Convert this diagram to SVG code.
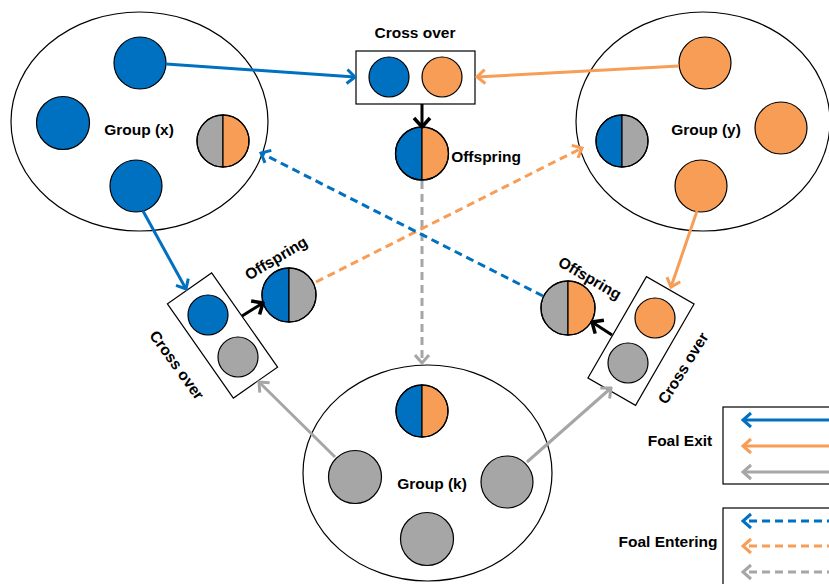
<svg xmlns="http://www.w3.org/2000/svg" width="829" height="584" viewBox="0 0 829 584">
<style>
.grp{fill:#fff;stroke:#000;stroke-width:1.2}
.box{fill:#fff;stroke:#000;stroke-width:1.2}
.b{fill:#0070C0;stroke:#000;stroke-width:1.2}
.o{fill:#F79D56;stroke:#000;stroke-width:1.2}
.g{fill:#A6A6A6;stroke:#000;stroke-width:1.2}
.out{fill:none;stroke:#000;stroke-width:1.3}
.t{font-family:"Liberation Sans",Arial,sans-serif;font-weight:bold;font-size:15.5px;fill:#000;text-anchor:middle;dominant-baseline:central}
.ln{fill:none;stroke-width:3}
.lb{stroke:#0070C0}
.lo{stroke:#F79D56}
.lg{stroke:#A6A6A6}
.lk{stroke:#000}
.d{stroke-dasharray:8 5}
</style>
<defs>
<marker id="mb" markerUnits="userSpaceOnUse" viewBox="-12 -10 14 20" markerWidth="14" markerHeight="20" refX="0" refY="0" orient="auto"><path d="M-8,-7 L0,0 L-8,7" fill="none" stroke="#0070C0" stroke-width="3"/></marker>
<marker id="mo" markerUnits="userSpaceOnUse" viewBox="-12 -10 14 20" markerWidth="14" markerHeight="20" refX="0" refY="0" orient="auto"><path d="M-8,-7 L0,0 L-8,7" fill="none" stroke="#F79D56" stroke-width="3"/></marker>
<marker id="mg" markerUnits="userSpaceOnUse" viewBox="-12 -10 14 20" markerWidth="14" markerHeight="20" refX="0" refY="0" orient="auto"><path d="M-8,-7 L0,0 L-8,7" fill="none" stroke="#A6A6A6" stroke-width="3"/></marker>
<marker id="mk" markerUnits="userSpaceOnUse" viewBox="-12 -10 14 20" markerWidth="14" markerHeight="20" refX="0" refY="0" orient="auto"><path d="M-9,-8 L0,0 L-9,8" fill="none" stroke="#000" stroke-width="3.5"/></marker>
</defs>

<g id="groupX">
<ellipse class="grp" cx="139.5" cy="121.5" rx="128.5" ry="109.5"/>
<circle class="b" cx="140" cy="63" r="26"/>
<circle class="b" cx="63" cy="123" r="26.5"/>
<circle class="b" cx="136" cy="186" r="26"/>
<path class="g" d="M223,115 A26,26 0 0 0 223,167 Z"/>
<path class="o" d="M223,115 A26,26 0 0 1 223,167 Z"/>
<circle class="out" cx="223" cy="141" r="26"/>
<text class="t" x="139" y="129">Group (x)</text>
</g>

<g id="groupY">
<ellipse class="grp" cx="703" cy="121.5" rx="127" ry="109.5"/>
<circle class="o" cx="705" cy="63" r="26"/>
<circle class="o" cx="781" cy="128" r="26"/>
<circle class="o" cx="701" cy="186" r="26"/>
<path class="b" d="M622,115 A26,26 0 0 0 622,167 Z"/>
<path class="g" d="M622,115 A26,26 0 0 1 622,167 Z"/>
<circle class="out" cx="622" cy="141" r="26"/>
<text class="t" x="706" y="129">Group (y)</text>
</g>

<g id="groupK">
<ellipse class="grp" cx="427.5" cy="473" rx="124.5" ry="108"/>
<path class="b" d="M422,385 A26,26 0 0 0 422,437 Z"/>
<path class="o" d="M422,385 A26,26 0 0 1 422,437 Z"/>
<circle class="out" cx="422" cy="411" r="26"/>
<circle class="g" cx="355" cy="477" r="26.5"/>
<circle class="g" cx="507" cy="482" r="26"/>
<circle class="g" cx="427" cy="539" r="26.5"/>
<text class="t" x="432" y="483">Group (k)</text>
</g>

<g id="crossTop">
<text class="t" x="415" y="32">Cross over</text>
<rect class="box" x="356" y="51" width="119" height="53"/>
<circle class="b" cx="389" cy="77" r="20"/>
<circle class="o" cx="442" cy="77" r="20"/>
</g>

<g id="offspringTop">
<path class="b" d="M422,127 A26.5,26.5 0 0 0 422,180 Z"/>
<path class="o" d="M422,127 A26.5,26.5 0 0 1 422,180 Z"/>
<circle class="out" cx="422" cy="153.5" r="26.5"/>
<text class="t" x="486" y="156">Offspring</text>
</g>

<g id="crossLeft">
<rect class="box" x="-27" y="-57.5" width="54" height="115" transform="translate(222.5,335.5) rotate(-35)"/>
<circle class="b" cx="208" cy="315" r="20"/>
<circle class="g" cx="238" cy="357" r="20"/>
<text class="t" transform="translate(177,365) rotate(54)">Cross over</text>
</g>

<g id="offspringLeft">
<path class="b" d="M289,268 A27,27 0 0 0 289,322 Z"/>
<path class="g" d="M289,268 A27,27 0 0 1 289,322 Z"/>
<circle class="out" cx="289" cy="295" r="27"/>
<text class="t" transform="translate(276,258) rotate(-31)">Offspring</text>
</g>

<g id="crossRight">
<rect class="box" x="-27.5" y="-58.5" width="55" height="117" transform="translate(641,341) rotate(30)"/>
<circle class="o" cx="655" cy="318" r="20"/>
<circle class="g" cx="628" cy="363" r="20"/>
<text class="t" transform="translate(683,368) rotate(-58)">Cross over</text>
</g>

<g id="offspringRight">
<path class="g" d="M568,281 A27,27 0 0 0 568,335 Z"/>
<path class="o" d="M568,281 A27,27 0 0 1 568,335 Z"/>
<circle class="out" cx="568" cy="308" r="27"/>
<text class="t" transform="translate(590,278) rotate(30)">Offspring</text>
</g>

<g id="legend">
<rect class="box" x="723" y="407" width="120" height="77"/>
<text class="t" x="680" y="440">Foal Exit</text>
<rect class="box" x="723" y="508" width="120" height="90"/>
<text class="t" x="668" y="541">Foal Entering</text>
</g>

<g id="connectors">
<line class="ln lb" x1="166" y1="64" x2="355" y2="77" marker-end="url(#mb)"/>
<line class="ln lo" x1="679" y1="66" x2="477" y2="77" marker-end="url(#mo)"/>
<line class="ln lk" x1="422" y1="104" x2="422" y2="127" marker-end="url(#mk)"/>
<line class="ln lb" x1="143" y1="211" x2="186" y2="289" marker-end="url(#mb)"/>
<line class="ln lo" x1="697" y1="211" x2="671" y2="287" marker-end="url(#mo)"/>
<line class="ln lk" x1="242" y1="316" x2="263" y2="303" marker-end="url(#mk)"/>
<line class="ln lk" x1="612" y1="335" x2="592" y2="322" marker-end="url(#mk)"/>
<line class="ln lg" x1="335" y1="457" x2="259" y2="382" marker-end="url(#mg)"/>
<line class="ln lg" x1="527" y1="462" x2="611" y2="388" marker-end="url(#mg)"/>
<line class="ln lg d" x1="422" y1="181" x2="422" y2="363" marker-end="url(#mg)"/>
<line class="ln lo d" x1="316" y1="282" x2="582" y2="148" marker-end="url(#mo)"/>
<line class="ln lb d" x1="543" y1="296" x2="261" y2="153" marker-end="url(#mb)"/>
<line class="ln lb" x1="835" y1="420" x2="743" y2="420" marker-end="url(#mb)"/>
<line class="ln lo" x1="835" y1="446" x2="743" y2="446" marker-end="url(#mo)"/>
<line class="ln lg" x1="835" y1="472" x2="743" y2="472" marker-end="url(#mg)"/>
<line class="ln lb d" x1="835" y1="521" x2="743" y2="521" marker-end="url(#mb)"/>
<line class="ln lo d" x1="835" y1="546" x2="743" y2="546" marker-end="url(#mo)"/>
<line class="ln lg d" x1="835" y1="572" x2="743" y2="572" marker-end="url(#mg)"/>
</g>
</svg>
